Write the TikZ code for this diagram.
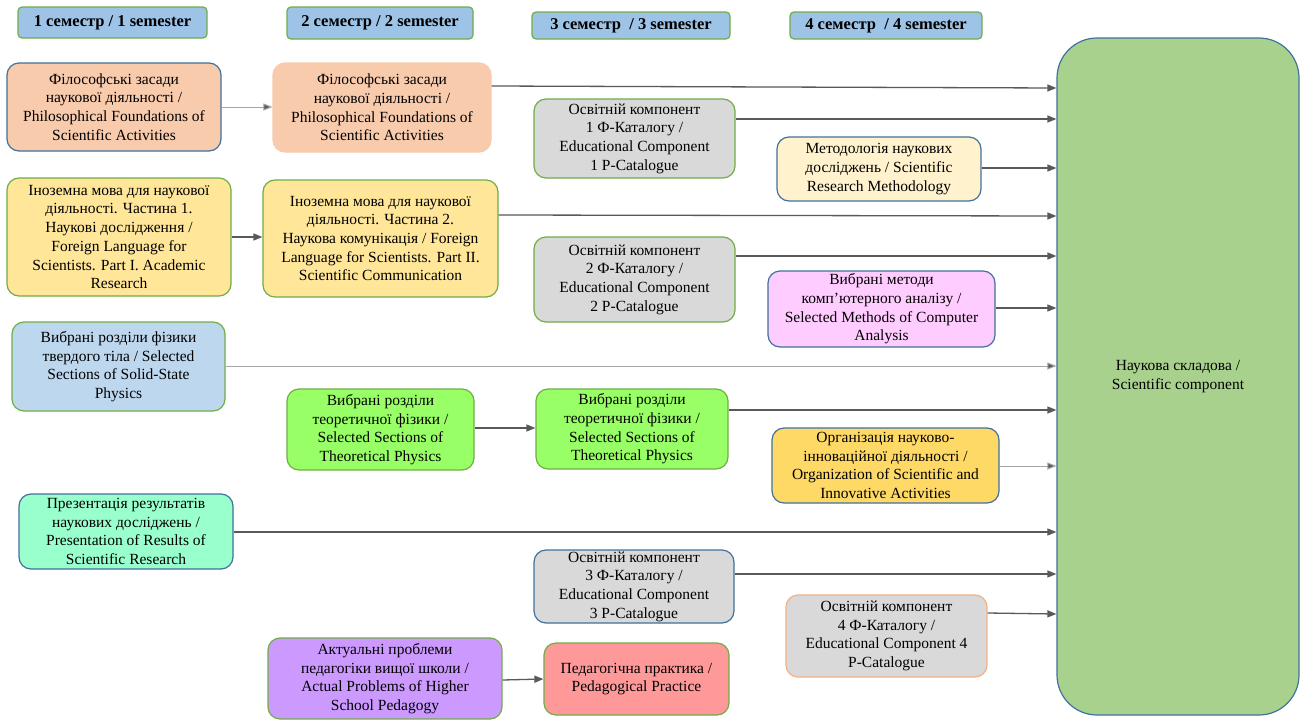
\documentclass[tikz,border=0pt]{standalone}
\usepackage{fontspec}
\setmainfont{Liberation Serif}
\usetikzlibrary{arrows.meta}
\definecolor{cA}{HTML}{F8CBAD}
\definecolor{cB}{HTML}{FFE699}
\definecolor{cC}{HTML}{BDD7EE}
\definecolor{cD}{HTML}{99FFCC}
\definecolor{cE}{HTML}{99FF66}
\definecolor{cF}{HTML}{CC99FF}
\definecolor{cG}{HTML}{D9D9D9}
\definecolor{cJ}{HTML}{FF9999}
\definecolor{cK}{HTML}{FFF2CC}
\definecolor{cL}{HTML}{FFCCFF}
\definecolor{cM}{HTML}{FFD966}
\definecolor{cO}{HTML}{A9D18E}
\definecolor{cH}{HTML}{9DC3E6}
\definecolor{bGreen}{HTML}{70AD47}
\definecolor{bBlue}{HTML}{41719C}
\definecolor{bSalmon}{HTML}{F4B183}
\definecolor{lnDark}{HTML}{595959}
\definecolor{lnLight}{HTML}{A6A6A6}
\begin{document}
\begin{tikzpicture}[x=1pt,y=-1pt,
  box/.style={draw, rounded corners=12pt, align=center, inner sep=0pt, line width=1.2pt,
    font=\fontsize{15.5}{18.7}\selectfont},
  hdr/.style={draw=bGreen, fill=cH, rounded corners=4pt, align=center, inner sep=0pt, line width=1.2pt,
    font=\fontsize{16.5}{19}\selectfont\bfseries},
  arr/.style={draw=lnDark, line width=1.3pt, -{Triangle[length=9pt,width=7pt]}},
  arrl/.style={draw=lnLight, line width=1pt, -{Triangle[length=9pt,width=7pt,fill=lnDark]}}
]
\useasboundingbox (0,0) rectangle (1301,720);
\fill[white] (0,0) rectangle (1301,720);

% headers
\node[hdr, minimum width=189pt, minimum height=31pt] (h1) at (112.5,22.5) {1 семестр / 1 semester};
\node[hdr, minimum width=186pt, minimum height=32pt] (h2) at (380,23) {2 семестр / 2 semester};
\node[hdr, minimum width=198pt, minimum height=27pt] (h3) at (631,25.5) {3 семестр ~/ 3 semester};
\node[hdr, minimum width=192pt, minimum height=27pt] (h4) at (886,25.5) {4 семестр ~/ 4 semester};

% column 1
\node[box, fill=cA, draw=bBlue, minimum width=214pt, minimum height=88pt] (A1) at (114,107)
  {Філософські засади\\наукової діяльності /\\Philosophical Foundations of\\Scientific Activities};
\node[box, fill=cB, draw=bGreen, minimum width=224pt, minimum height=118pt] (B1) at (119,237)
  {Іноземна мова для наукової\\діяльності. Частина 1.\\Наукові дослідження /\\Foreign Language for\\Scientists. Part I. Academic\\Research};
\node[box, fill=cC, draw=bGreen, minimum width=213pt, minimum height=89pt] (C1) at (118.5,366.5)
  {Вибрані розділи фізики\\твердого тіла / Selected\\Sections of Solid-State\\Physics};
\node[box, fill=cD, draw=bBlue, minimum width=214pt, minimum height=75pt] (D1) at (126,531.5)
  {Презентація результатів\\наукових досліджень /\\Presentation of Results of\\Scientific Research};

% column 2
\node[box, fill=cA, draw=cA, minimum width=218pt, minimum height=89pt] (A2) at (382,107.5)
  {Філософські засади\\наукової діяльності /\\Philosophical Foundations of\\Scientific Activities};
\node[box, fill=cB, draw=bGreen, minimum width=235pt, minimum height=117pt] (B2) at (380.5,238.5)
  {Іноземна мова для наукової\\діяльності. Частина 2.\\Наукова комунікація / Foreign\\Language for Scientists. Part II.\\Scientific Communication};
\node[box, fill=cE, draw=bGreen, minimum width=187pt, minimum height=81pt] (E2) at (380.5,429.5)
  {Вибрані розділи\\теоретичної фізики /\\Selected Sections of\\Theoretical Physics};
\node[box, fill=cF, draw=bGreen, minimum width=234pt, minimum height=81pt] (F2) at (385,678.5)
  {Актуальні проблеми\\педагогіки вищої школи /\\Actual Problems of Higher\\School Pedagogy};

% column 3
\node[box, fill=cG, draw=bGreen, minimum width=201pt, minimum height=79pt] (G3) at (634.5,138.5)
  {Освітній компонент\\1 Ф-Каталогу /\\Educational Component\\1 P-Catalogue};
\node[box, fill=cG, draw=bGreen, minimum width=201pt, minimum height=85pt] (H3) at (634.5,279.5)
  {Освітній компонент\\2 Ф-Каталогу /\\Educational Component\\2 P-Catalogue};
\node[box, fill=cE, draw=bGreen, minimum width=192pt, minimum height=80pt] (E3) at (632,429)
  {Вибрані розділи\\теоретичної фізики /\\Selected Sections of\\Theoretical Physics};
\node[box, fill=cG, draw=bBlue, minimum width=200pt, minimum height=73pt] (I3) at (634,586.5)
  {Освітній компонент\\3 Ф-Каталогу /\\Educational Component\\3 P-Catalogue};
\node[box, fill=cJ, draw=bGreen, minimum width=185pt, minimum height=72pt] (J3) at (636.5,679)
  {Педагогічна практика /\\Pedagogical Practice};

% column 4
\node[box, fill=cK, draw=bBlue, minimum width=204pt, minimum height=64pt] (K4) at (879,169)
  {Методологія наукових\\досліджень / Scientific\\Research Methodology};
\node[box, fill=cL, draw=bBlue, minimum width=227pt, minimum height=76pt] (L4) at (881.5,309)
  {Вибрані методи\\комп’ютерного аналізу /\\Selected Methods of Computer\\Analysis};
\node[box, fill=cM, draw=bBlue, minimum width=227pt, minimum height=75pt] (M4) at (885.5,465.5)
  {Організація науково-\\інноваційної діяльності /\\Organization of Scientific and\\Innovative Activities};
\node[box, fill=cG, draw=bSalmon, minimum width=201pt, minimum height=82pt] (N4) at (886.5,636)
  {Освітній компонент\\4 Ф-Каталогу /\\Educational Component 4\\P-Catalogue};

% big box
\node[box, rounded corners=40pt, fill=cO, draw=bBlue, minimum width=242pt, minimum height=677pt] (O) at (1178,376.5)
  {Наукова складова /\\Scientific component};

% connectors
\draw[arrl] (A1.east |- 0,107) -- (A2.west |- 0,107);
\draw[arr] (B1.east |- 0,237) -- (B2.west |- 0,237);
\draw[arr] (E2.east |- 0,428) -- (E3.west |- 0,428);
\draw[arr] (F2.east |- 0,680) -- (J3.west |- 0,679);

\draw[arr] (A2.east |- 0,86) -- (O.west |- 0,88);
\draw[arr] (G3.east |- 0,119) -- (O.west |- 0,119);
\draw[arr] (K4.east |- 0,168) -- (O.west |- 0,168);
\draw[arr] (B2.east |- 0,215) -- (O.west |- 0,216);
\draw[arr] (H3.east |- 0,256) -- (O.west |- 0,256);
\draw[arr] (L4.east |- 0,308) -- (O.west |- 0,308);
\draw[arrl] (C1.east |- 0,366) -- (O.west |- 0,366);
\draw[arr] (E3.east |- 0,410) -- (O.west |- 0,410);
\draw[arrl] (M4.east |- 0,466) -- (O.west |- 0,466);
\draw[arr] (D1.east |- 0,532) -- (O.west |- 0,532);
\draw[arr] (I3.east |- 0,574) -- (O.west |- 0,574);
\draw[arr] (N4.east |- 0,613) -- (O.west |- 0,614);
\end{tikzpicture}
\end{document}
